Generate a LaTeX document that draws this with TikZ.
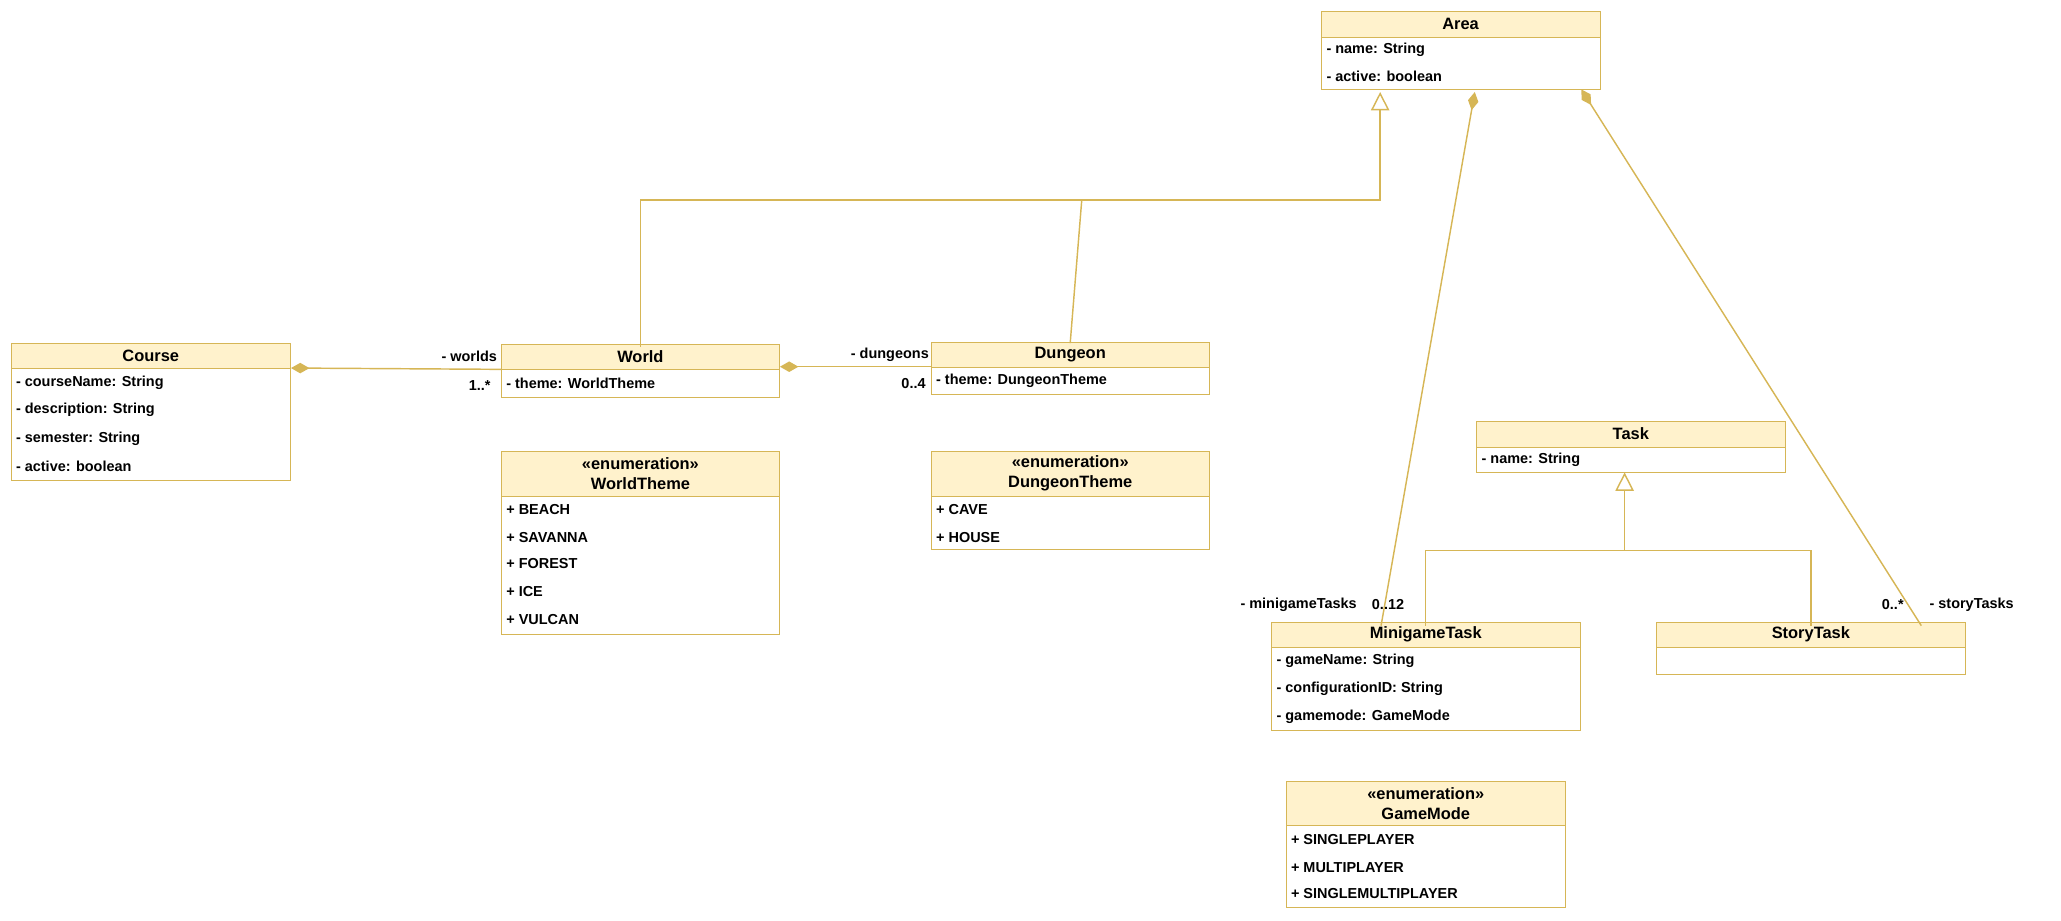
\documentclass[tikz,border=0pt]{standalone}
\usepackage{fontspec}
\setmainfont{Liberation Sans}
\usetikzlibrary{arrows.meta}
\definecolor{umlfill}{HTML}{FFF2CC}
\definecolor{umlline}{HTML}{D6B656}
\tikzset{
  head/.style={draw=umlline, fill=umlfill, inner sep=0pt, anchor=north west,
    font=\fontsize{12.5}{15}\selectfont\bfseries, align=center},
  body/.style={draw=umlline, fill=white, inner sep=0pt, anchor=north west},
  attr/.style={anchor=west, inner sep=0pt, font=\fontsize{11}{13}\selectfont\bfseries},
  lbl/.style={inner sep=0pt, font=\fontsize{11}{13}\selectfont\bfseries},
  conn/.style={draw=umlline, line width=1.1pt},
  comp/.style={conn, -{Diamond[length=14pt, width=8pt, fill=umlline]}},
  gen/.style={conn, -{Triangle[open, length=14pt, width=14pt, fill=white]}}
}
% class box: name, x1, x2, top, split, bottom, title
\newcommand{\classbox}[7]{%
  \node[head, minimum width={#3pt-#2pt}, minimum height={#5pt-#4pt}] (#1) at (#2,#4) {#7};
  \node[body, minimum width={#3pt-#2pt}, minimum height={#6pt-#5pt}] (#1b) at (#2,#5) {};
}
\begin{document}
\begin{tikzpicture}[x=1pt, y=-1pt]
\useasboundingbox (0,0) rectangle (1568,700);

\classbox{area}{1005}{1217}{8}{28}{68}{Area}
\classbox{course}{8}{221}{261}{280}{365}{Course}
\classbox{world}{381}{593}{262}{281}{302}{World}
\classbox{dungeon}{708}{920}{260}{279}{300}{Dungeon}
\classbox{worldtheme}{381}{593}{343}{377}{482}{\textless\textless enumeration\textgreater\textgreater\\WorldTheme}
\classbox{dungeontheme}{708}{920}{343}{377}{418}{\textless\textless enumeration\textgreater\textgreater\\DungeonTheme}
\classbox{task}{1123}{1358}{320}{340}{359}{Task}
\classbox{minigame}{967}{1202}{473}{492}{555}{MinigameTask}
\classbox{story}{1260}{1495}{473}{492}{513}{StoryTask}
\classbox{gamemode}{978}{1191}{594}{628}{690}{\textless\textless enumeration\textgreater\textgreater\\GameMode}

% attributes
\foreach \y/\t in {38/- name: String, 58/- active: boolean}
  \node[attr] at (1009,\y) {\t};
\foreach \y/\t in {291/- courseName: String, 312/- description: String, 334/- semester: String, 355/- active: boolean}
  \node[attr] at (12,\y) {\t};
\node[attr] at (385,292) {- theme: WorldTheme};
\node[attr] at (712,290) {- theme: DungeonTheme};
\foreach \y/\t in {388/+ BEACH, 409/+ SAVANNA, 429/+ FOREST, 450/+ ICE, 471/+ VULCAN}
  \node[attr] at (385,\y) {\t};
\foreach \y/\t in {388/+ CAVE, 409/+ HOUSE}
  \node[attr] at (712,\y) {\t};
\node[attr] at (1127,350) {- name: String};
\foreach \y/\t in {503/- gameName: String, 524/- configurationID: String, 545/- gamemode: GameMode}
  \node[attr] at (971,\y) {\t};
\foreach \y/\t in {639/+ SINGLEPLAYER, 660/+ MULTIPLAYER, 680/+ SINGLEMULTIPLAYER}
  \node[attr] at (982,\y) {\t};

% connectors
\coordinate (areagen) at (1050,70);
\coordinate (areamini) at (1122,70);
\coordinate (areastory) at (1203,68);
\coordinate (genjoin) at (823,152);
\coordinate (taskjoin) at (1236,419);

\draw[comp] (worldb.north west) -- (courseb.north east);
\draw[comp] (dungeonb.north west) -- (dungeonb.north west -| world.east);
\draw[gen] ([yshift=-2pt]world.north) |- (genjoin) -| (areagen);
\draw[conn] ([yshift=-1pt]dungeon.north) -- (genjoin);
\draw[comp] ([xshift=-34pt,yshift=-3pt]minigame.north) -- (areamini);
\draw[comp] ([xshift=84pt,yshift=-3pt]story.north) -- (areastory);
\draw[conn] ([yshift=-3pt]minigame.north) |- (taskjoin) -| ([yshift=-3pt]story.north);
\draw[gen] (taskjoin) -- (taskb.south -| taskjoin);

% labels
\node[lbl] at (357,271) {- worlds};
\node[lbl] at (365,293) {1..*};
\node[lbl] at (677,270) {- dungeons};
\node[lbl] at (695,292) {0..4};
\node[lbl] at (988,460) {- minigameTasks};
\node[lbl] at (1056,460) {0..12};
\node[lbl] at (1440,460) {0..*};
\node[lbl] at (1500,460) {- storyTasks};
\end{tikzpicture}
\end{document}
